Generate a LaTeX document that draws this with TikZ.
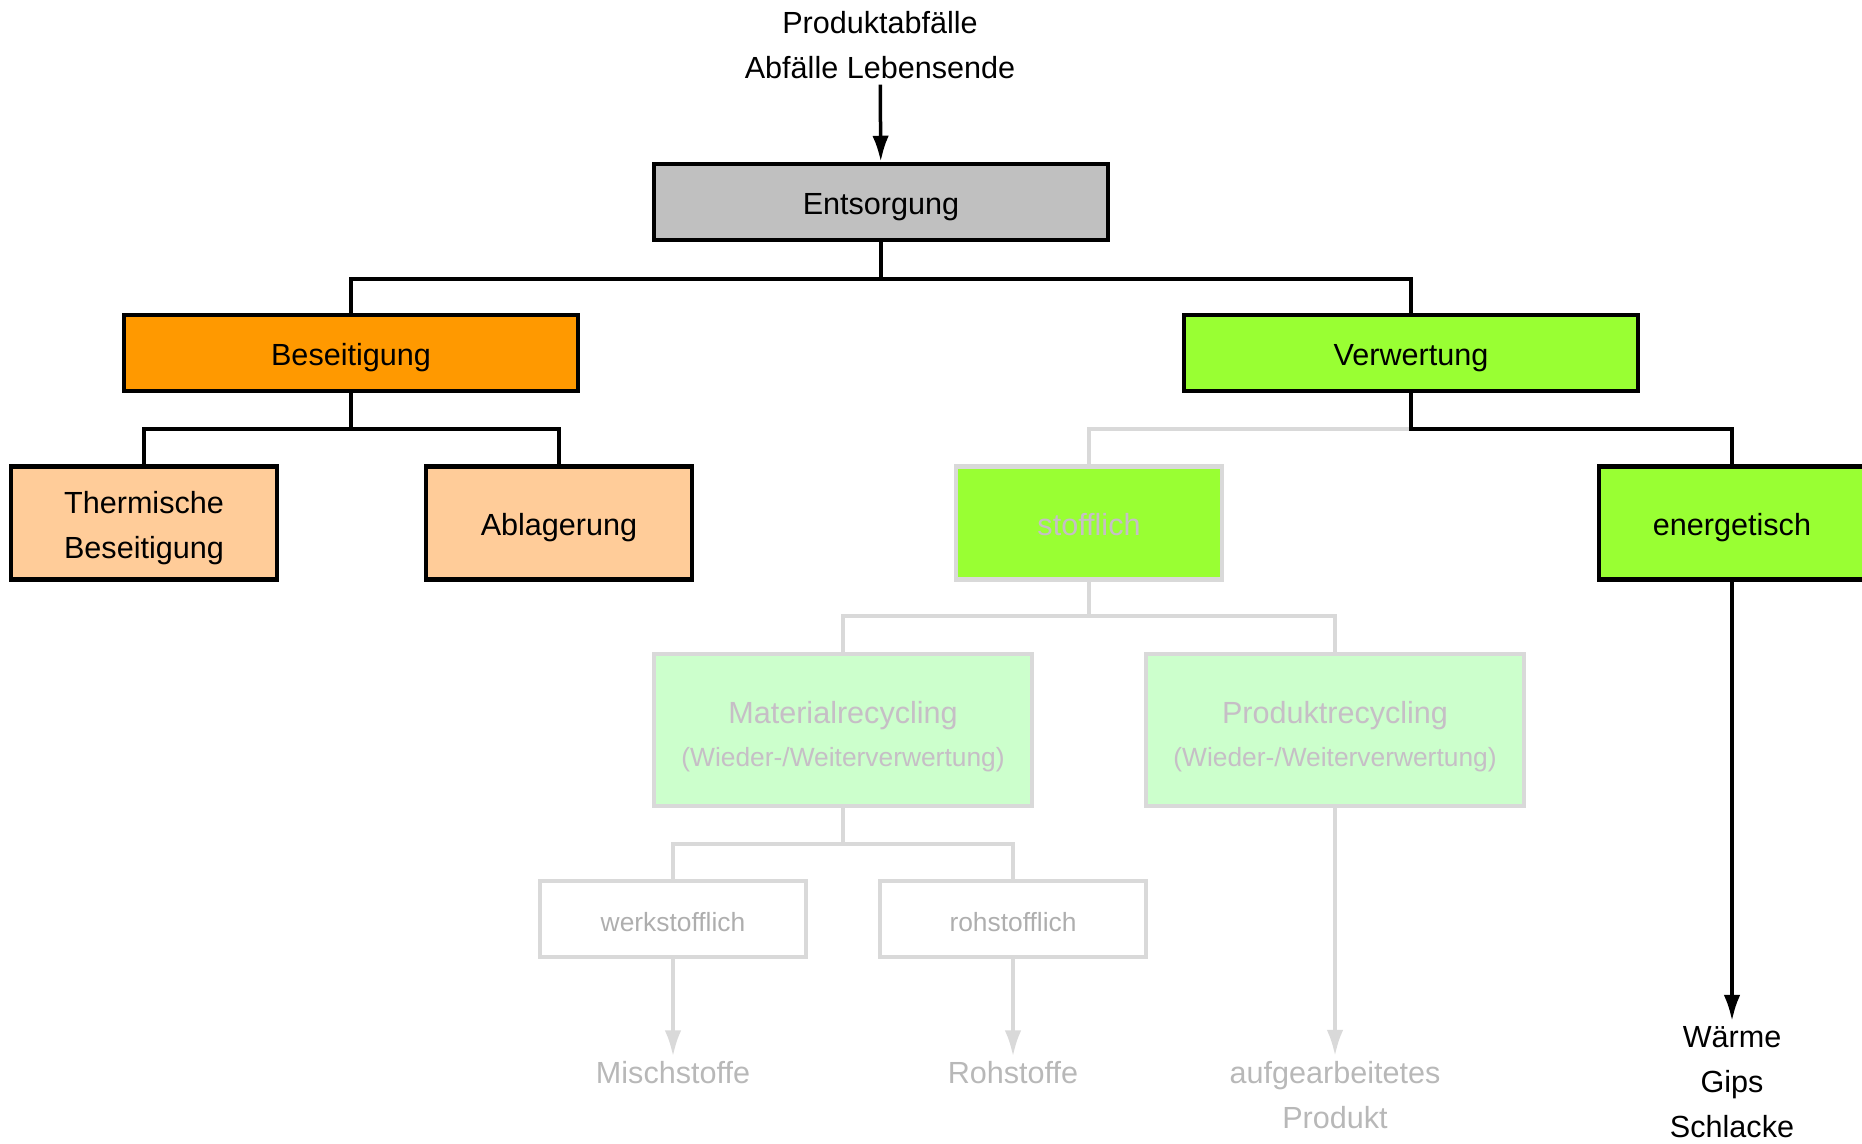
\documentclass[tikz,border=0pt]{standalone}
\usepackage{fontspec}
\setmainfont{Liberation Sans}
\usepackage{tikz}
\usetikzlibrary{arrows.meta}

% colours of the boxes and of the faded part of the tree
\definecolor{entsgray}{HTML}{C0C0C0}
\definecolor{besorange}{HTML}{FF9900}
\definecolor{beslight}{HTML}{FFCC99}
\definecolor{verwgreen}{HTML}{99FF33}
\definecolor{verwlight}{HTML}{CCFFCC}
\definecolor{fadeline}{HTML}{D9D9D9}
\definecolor{fadetext}{HTML}{C6BEC6}

% text sizes
\newcommand{\mainsize}{\fontsize{17.4}{25.6}\selectfont}
\newcommand{\subsize}{\fontsize{15}{21}\selectfont}

\tikzset{
  % "box" = black frame, wide boxes of the first two levels
  box/.style={draw=black, line width=0.09cm, minimum width=9.08cm, minimum height=1.52cm,
    inner sep=0pt, align=center, font=\mainsize},
  % "leafbox" = smaller black frame, third level
  leafbox/.style={box, minimum width=5.32cm, minimum height=2.26cm},
  % "oneline" = fixed text height, so one-line labels sit a little low as in the original
  oneline/.style={text height=0.55cm, text depth=0.04cm},
  % the faded branch (stofflich and below)
  fadebox/.style={draw=fadeline, line width=0.09cm, inner sep=0pt, align=center,
    text=fadetext, font=\mainsize},
  txt/.style={draw=none, align=center, font=\mainsize, inner sep=0.1cm},
  conn/.style={draw=black, line width=0.07cm},
  fadeconn/.style={draw=fadeline, line width=0.07cm},
  arr/.style={conn, -{Latex[length=0.52cm, width=0.33cm]}},
  fadearr/.style={fadeconn, -{Latex[length=0.52cm, width=0.33cm, fill=fadeline]}}
}

\begin{document}
\begin{tikzpicture}
% page size of the reference
\useasboundingbox (0,0) rectangle (37.24,22.86);

% Nodes: top input and first level
\node[txt] (src) at (17.6,21.95) {Produktabfälle\\Abfälle Lebensende};
\node[box, oneline, fill=entsgray] (ents) at (17.62,18.82) {Entsorgung};

% second level
\node[box, oneline, fill=besorange] (bes) at (7.02,15.80) {Beseitigung};
\node[box, oneline, fill=verwgreen] (verw) at (28.22,15.80) {Verwertung};

% third level
\node[leafbox, fill=beslight] (therm) at (2.88,12.40) {\rule{0pt}{0.65cm}Thermische\\Beseitigung};
\node[leafbox, oneline, fill=beslight] (ablag) at (11.18,12.40) {Ablagerung};
\node[fadebox, oneline, fill=verwgreen, minimum width=5.32cm, minimum height=2.26cm] (stoff) at (21.78,12.40) {stofflich};
\node[leafbox, oneline, fill=verwgreen] (energ) at (34.64,12.40) {energetisch};

% fourth level (faded)
\node[fadebox, fill=verwlight, minimum width=7.56cm, minimum height=3.04cm] (matrec) at (16.86,8.26)
  {\rule{0pt}{0.72cm}Materialrecycling\\[-0.04cm]{\subsize(Wieder-/Weiterverwertung)}};
\node[fadebox, fill=verwlight, minimum width=7.56cm, minimum height=3.04cm] (prodrec) at (26.70,8.26)
  {\rule{0pt}{0.72cm}Produktrecycling\\[-0.04cm]{\subsize(Wieder-/Weiterverwertung)}};

% fifth level (faded, no fill)
\node[fadebox, oneline, font=\subsize, text=fadeline!80!black, minimum width=5.32cm, minimum height=1.52cm] (werk) at (13.46,4.48) {werkstofflich};
\node[fadebox, oneline, font=\subsize, text=fadeline!80!black, minimum width=5.32cm, minimum height=1.52cm] (roh) at (20.26,4.48) {rohstofflich};

% outputs
\node[txt, text=fadeline!85!black] (misch) at (13.46,1.40) {Mischstoffe};
\node[txt, text=fadeline!85!black] (rohst) at (20.26,1.40) {Rohstoffe};
\node[txt, text=fadeline!85!black] (aufg) at (26.70,0.96) {aufgearbeitetes\\Produkt};
\node[txt] (waerme) at (34.64,1.22) {Wärme\\Gips\\Schlacke};

% Connectors of the tree
\draw[arr] (src) -- (ents);
\coordinate (entsfork) at (17.62,17.28);
\draw[conn] (ents.south) -- (entsfork) -| (bes.north);
\draw[conn] (entsfork) -| (verw.north);

\coordinate (besfork) at (7.02,14.28);
\draw[conn] (bes.south) -- (besfork) -| (therm.north);
\draw[conn] (besfork) -| (ablag.north);

\coordinate (verwfork) at (28.22,14.28);
\draw[fadeconn] (verwfork) -| (stoff.north);
\draw[conn] (verw.south) -- (verwfork) -| (energ.north);

\coordinate (stofffork) at (21.78,10.54);
\draw[fadeconn] (stoff.south) -- (stofffork) -| (matrec.north);
\draw[fadeconn] (stofffork) -| (prodrec.north);

\coordinate (matfork) at (16.86,5.98);
\draw[fadeconn] (matrec.south) -- (matfork) -| (werk.north);
\draw[fadeconn] (matfork) -| (roh.north);

% arrows to the outputs
\draw[fadearr] (werk) -- (misch);
\draw[fadearr] (roh) -- (rohst);
\draw[fadearr] (prodrec) -- (aufg);
\draw[arr] (energ) -- (waerme);
\end{tikzpicture}
\end{document}
